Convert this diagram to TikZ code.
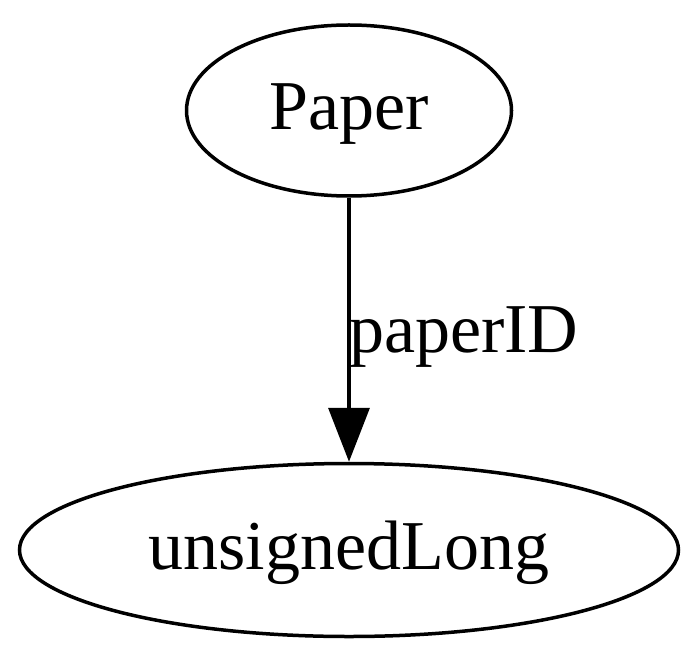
\documentclass[tikz,border=0pt]{standalone}
\usepackage{fontspec}
\setmainfont{Liberation Serif}
\usetikzlibrary{shapes.geometric,arrows.meta}
\begin{document}
\begin{tikzpicture}[x=1pt,y=-1pt,
  every node/.style={font=\fontsize{70}{82}\selectfont},
  gvnode/.style={draw,ellipse,line width=3.5pt,inner sep=0pt,text height=51pt,text depth=12pt},
  gvedge/.style={line width=3.5pt,-{Triangle[length=54pt,width=41pt]}}]
\useasboundingbox (0,0) rectangle (700,660);
\node[gvnode,minimum width=325pt,minimum height=171pt] (paper) at (349,110.5) {Paper};
\node[gvnode,minimum width=659pt,minimum height=173pt] (ulong) at (349,550) {unsignedLong};
\draw[gvedge] (paper) -- (ulong);
\node[anchor=base west,inner sep=0pt] (lbl) at (349,352) {paperID};
\end{tikzpicture}
\end{document}
